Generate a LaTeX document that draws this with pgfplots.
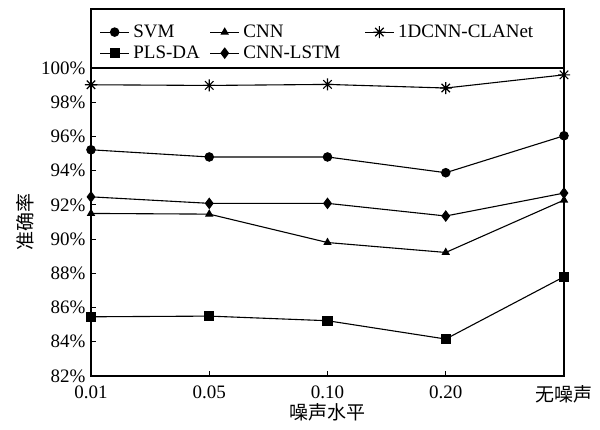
\documentclass[border=0pt]{standalone}
\usepackage{fontspec}
\setmainfont{Liberation Serif}
\newfontfamily\cjk{Noto Sans CJK SC}
\usepackage{pgfplots}
\pgfplotsset{compat=1.18}

% MATLAB-like asterisk: plus and cross
\pgfdeclareplotmark{plusx}{%
  \pgfpathmoveto{\pgfqpoint{-\pgfplotmarksize}{0pt}}\pgfpathlineto{\pgfqpoint{\pgfplotmarksize}{0pt}}%
  \pgfpathmoveto{\pgfqpoint{0pt}{-\pgfplotmarksize}}\pgfpathlineto{\pgfqpoint{0pt}{\pgfplotmarksize}}%
  \pgfpathmoveto{\pgfqpoint{-.707\pgfplotmarksize}{-.707\pgfplotmarksize}}\pgfpathlineto{\pgfqpoint{.707\pgfplotmarksize}{.707\pgfplotmarksize}}%
  \pgfpathmoveto{\pgfqpoint{-.707\pgfplotmarksize}{.707\pgfplotmarksize}}\pgfpathlineto{\pgfqpoint{.707\pgfplotmarksize}{-.707\pgfplotmarksize}}%
  \pgfusepathqstroke}

\begin{document}
\begin{tikzpicture}
\begin{axis}[
  scale only axis,
  width=473pt, height=308pt,
  xmin=0, xmax=4, ymin=82, ymax=100,
  xtick={0,1,2,3,4},
  xticklabels={0.01,0.05,0.10,0.20,{\cjk 无噪声}},
  ytick={82,84,...,100},
  yticklabels={82\%,84\%,86\%,88\%,90\%,92\%,94\%,96\%,98\%,100\%},
  tick align=inside, xtick pos=bottom, ytick pos=left,
  major tick length=5pt,
  tick style={black, line width=1.2pt},
  axis line style={line width=1.5pt},
  every axis plot/.append style={line width=1.1pt, black},
  font=\fontsize{19}{22}\selectfont,
  yticklabel style={font=\fontsize{19}{22}\selectfont, xshift=-2pt},
  xticklabel style={font=\fontsize{19}{22}\selectfont, yshift=-6pt},
  xlabel={\cjk 噪声水平}, ylabel={\cjk 准确率},
  label style={font=\fontsize{19}{22}\selectfont},
  xlabel style={yshift=7pt},
  clip=false,
  legend columns=3,
  legend cell align=left,
  legend style={draw=none, fill=none, at={(axis description cs:0.012,1.153)}, anchor=north west,
    font=\fontsize{19}{22}\selectfont, row sep=3pt,
    /tikz/every odd column/.append style={column sep=2pt},
    /tikz/every even column/.append style={column sep=8pt}},
  legend image code/.code={\draw[mark repeat=2,mark phase=2]
    plot coordinates {(0cm,0cm) (0.5cm,0cm) (1cm,0cm)};},
]
\addplot[mark=*, mark size=4.2pt] coordinates {
  (0,95.22)(1,94.80)(2,94.80)(3,93.88)(4,96.04)};
\addlegendentry{SVM}
\addplot[mark=triangle*, mark size=3.8pt] coordinates {
  (0,91.50)(1,91.46)(2,89.80)(3,89.22)(4,92.28)};
\addlegendentry{CNN}
\addplot[mark=plusx, mark size=6pt, mark options={line width=1.1pt}] coordinates {
  (0,99.02)(1,98.98)(2,99.04)(3,98.83)(4,99.60)};
\addlegendentry{1DCNN-CLANet}
\addplot[mark=square*, mark size=4.5pt] coordinates {
  (0,85.46)(1,85.50)(2,85.23)(3,84.16)(4,87.80)};
\addlegendentry{PLS-DA}
\addplot[mark=diamond*, mark size=5pt] coordinates {
  (0,92.47)(1,92.09)(2,92.09)(3,91.35)(4,92.69)};
\addlegendentry{CNN-LSTM\rule{14pt}{0pt}}
\draw[line width=1.5pt] (rel axis cs:0,1) -- (rel axis cs:0,1.1916)
  -- (rel axis cs:1,1.1916) -- (rel axis cs:1,1);
\end{axis}
\path (-91pt,-54pt) rectangle (509pt,376pt);
\end{tikzpicture}
\end{document}
